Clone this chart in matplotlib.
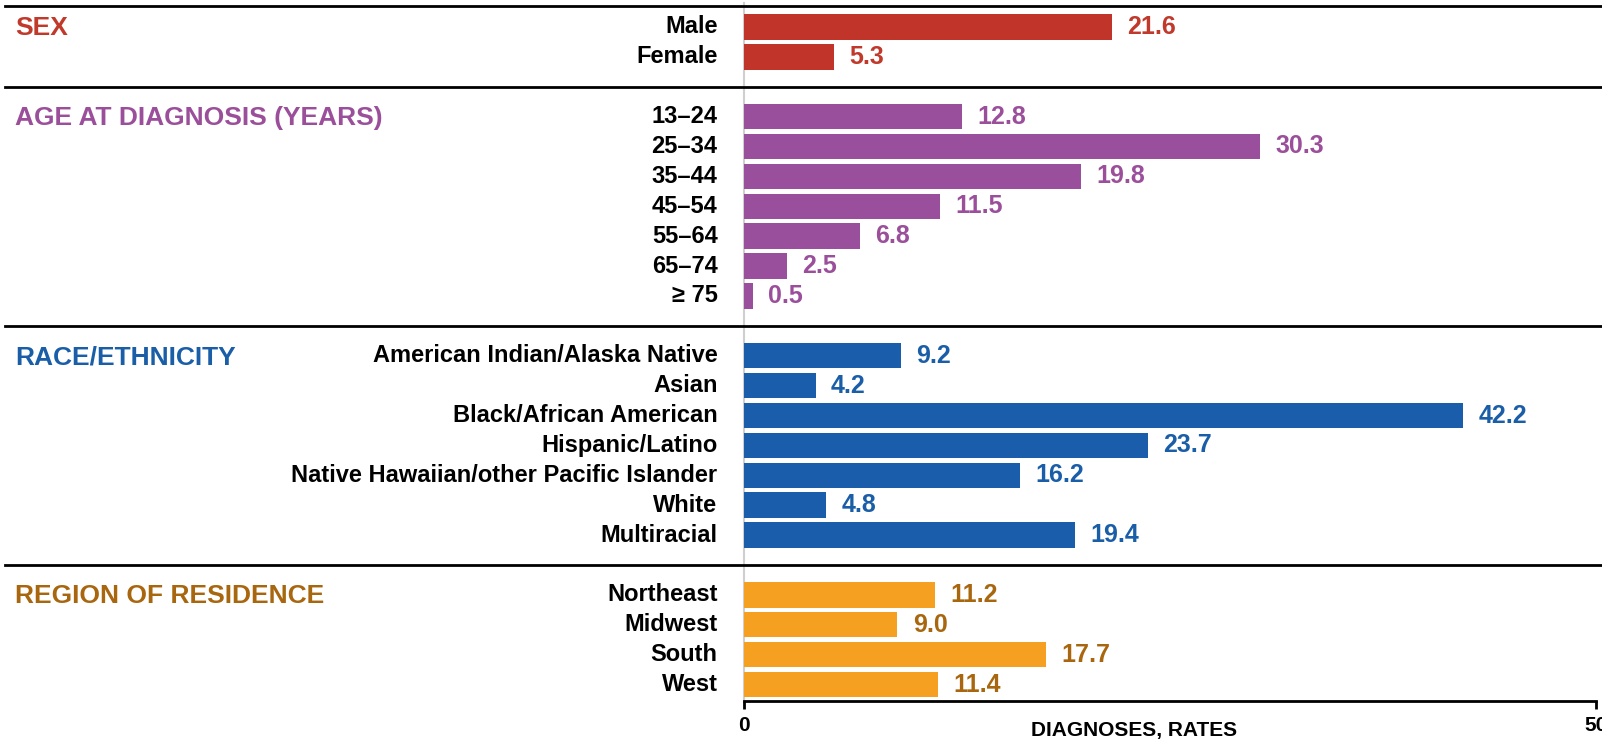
import matplotlib.pyplot as plt
from matplotlib.transforms import blended_transform_factory

plt.rcParams['font.family'] = ['Liberation Sans Narrow', 'Liberation Sans', 'DejaVu Sans']
plt.rcParams['font.weight'] = 'bold'

sex_labels = ['Male', 'Female']
sex_values = [21.6, 5.3]
age_labels = ['13–24', '25–34', '35–44', '45–54', '55–64', '65–74', '≥ 75']
age_values = [12.8, 30.3, 19.8, 11.5, 6.8, 2.5, 0.5]
race_labels = ['American Indian/Alaska Native', 'Asian', 'Black/African American',
               'Hispanic/Latino', 'Native Hawaiian/other Pacific Islander', 'White', 'Multiracial']
race_values = [9.2, 4.2, 42.2, 23.7, 16.2, 4.8, 19.4]
region_labels = ['Northeast', 'Midwest', 'South', 'West']
region_values = [11.2, 9.0, 17.7, 11.4]

groups = [
    ('SEX', sex_labels, sex_values, '#C0342A', '#C0392B', '#C0392B'),
    ('AGE AT DIAGNOSIS (YEARS)', age_labels, age_values, '#994F9C', '#9B4F9B', '#9B4F9B'),
    ('RACE/ETHNICITY', race_labels, race_values, '#1A5DAA', '#1A5EA8', '#1A5EA8'),
    ('REGION OF RESIDENCE', region_labels, region_values, '#F5A020', '#A8670F', '#A8670F'),
]

fig = plt.figure(figsize=(16.02, 7.42), dpi=100)
ax = fig.add_axes([744 / 1602, 41 / 742, 852 / 1602, 698 / 742])
ax.set_xlim(0, 50)
ax.set_ylim(22.55, -0.8)

trans = blended_transform_factory(fig.transFigure, ax.transData)
row = 0
seps = [-0.7]
for gi, (title, labels, values, bar_c, val_c, title_c) in enumerate(groups):
    ys = list(range(row, row + len(labels)))
    ax.barh(ys, values, height=0.85, color=bar_c, zorder=3)
    for y, lab, v in zip(ys, labels, values):
        ax.text(-1.55, y, lab, ha='right', va='center', fontsize=17, color='black')
        ax.text(v + 0.9, y, f'{v:.1f}', ha='left', va='center', fontsize=18, color=val_c)
    ax.text(15 / 1602, ys[0] + 0.05, title, transform=trans, ha='left', va='center',
            fontsize=19, color=title_c)
    row += len(labels) + 1
    if gi < len(groups) - 1:
        seps.append(row - 1)

for s in seps:
    ax.plot([0.003, 1.0], [s, s], transform=trans, color='black', lw=2.0,
            clip_on=False, zorder=4)

for side in ['top', 'right']:
    ax.spines[side].set_visible(False)
ax.spines['left'].set_color('#CFCFCF')
ax.spines['left'].set_linewidth(1.5)
ax.spines['bottom'].set_linewidth(2)
ax.set_yticks([])
ax.set_xticks([0, 50])
ax.set_xticklabels(['0', '50'])
ax.tick_params(axis='x', length=6, width=2, labelsize=15, pad=5)
ax.text(22.9, 23.55, 'DIAGNOSES, RATES', ha='center', va='center', fontsize=15, color='black',
        clip_on=False)

fig.savefig('out.png', dpi=100, facecolor='white')
